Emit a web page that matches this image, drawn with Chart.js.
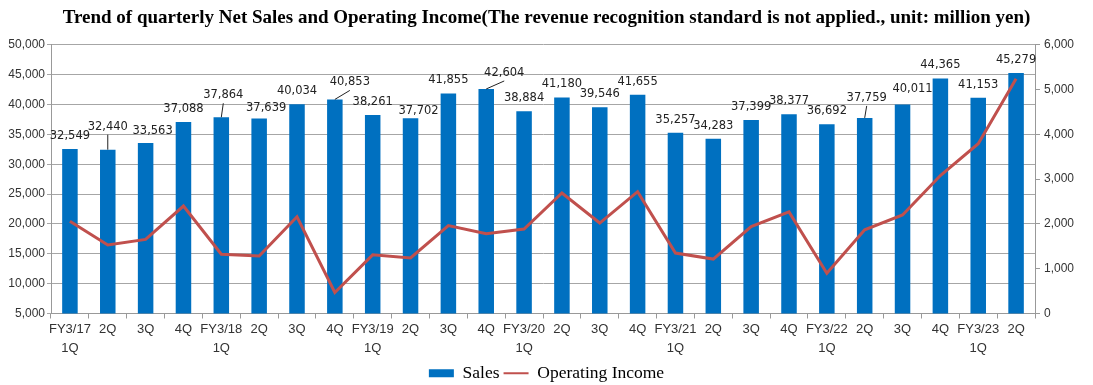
<!DOCTYPE html>
<html lang="en">
  <head>
    <meta charset="UTF-8" />
    <title>Net Sales and Operating Income</title>
    <script src="https://cdn.jsdelivr.net/npm/chart.js"></script>
    <style>
      html, body { margin: 0; padding: 0; background: #fff; }
      .wrap { width: 1093px; height: 385px; }
    </style>
  </head>
  <body>
    <div class="wrap"><canvas id="salesChart"></canvas></div>

    <script>
      // quarters (two-line labels)
      const quarters = [
        ["FY3/17", "1Q"], "2Q", "3Q", "4Q",
        ["FY3/18", "1Q"], "2Q", "3Q", "4Q",
        ["FY3/19", "1Q"], "2Q", "3Q", "4Q",
        ["FY3/20", "1Q"], "2Q", "3Q", "4Q",
        ["FY3/21", "1Q"], "2Q", "3Q", "4Q",
        ["FY3/22", "1Q"], "2Q", "3Q", "4Q",
        ["FY3/23", "1Q"], "2Q",
      ];

      // net sales, million yen (left axis)
      const sales = [
        32549, 32440, 33563, 37088,
        37864, 37639, 40034, 40853,
        38261, 37702, 41855, 42604,
        38884, 41180, 39546, 41655,
        35257, 34283, 37399, 38377,
        36692, 37759, 40011, 44365,
        41153, 45279,
      ];

      // operating income, million yen (right axis)
      const operatingIncome = [
        2060, 1530, 1655, 2400,
        1325, 1285, 2160, 470,
        1310, 1240, 1965, 1780,
        1885, 2690, 2020, 2720,
        1350, 1215, 1940, 2270,
        900, 1870, 2200, 3080,
        3790, 5240,
      ];

      const salesTicks = { min: 5000, max: 50000, step: 5000 };
      const incomeTicks = { min: 0, max: 6000, step: 1000 };

      // hand-moved value labels (px nudge, leader line), like in the original
      const labelNudge = {
        1: { dx: 0, dy: -10, leader: true },
        2: { dx: 7, dy: 1 },
        4: { dx: 2, dy: -9, leader: true },
        5: { dx: 7, dy: 2 },
        7: { dx: 15, dy: -4, leader: true },
        9: { dx: 8, dy: 6 },
        11: { dx: 18, dy: -3, leader: true },
        21: { dx: 2, dy: -7, leader: true },
        22: { dx: 10, dy: -2 },
      };

      const fmt = (v) => v.toLocaleString("en-US");

      // value labels above the bars
      const barLabels = {
        id: "barLabels",
        afterDatasetsDraw(chart) {
          const meta = chart.getDatasetMeta(1);
          const ctx = chart.ctx;
          ctx.save();
          ctx.font = "11.5px 'DejaVu Sans'";
          ctx.fillStyle = "#222";
          ctx.strokeStyle = "#222";
          ctx.lineWidth = 1;
          ctx.textAlign = "center";
          ctx.textBaseline = "middle";
          meta.data.forEach((bar, i) => {
            const n = labelNudge[i] || { dx: 0, dy: 0 };
            const lx = bar.x + n.dx;
            const ly = bar.y - 13 + n.dy;
            ctx.fillText(fmt(sales[i]), lx, ly);
            if (n.leader) {
              ctx.beginPath();
              ctx.moveTo(lx, ly + 8);
              ctx.lineTo(bar.x, bar.y);
              ctx.stroke();
            }
          });
          ctx.restore();
        },
      };

      const ctx = document.getElementById("salesChart").getContext("2d");
      new Chart(ctx, {
        data: {
          labels: quarters,
          datasets: [
            {
              type: "line",
              label: "Operating Income",
              data: operatingIncome,
              yAxisID: "y1",
              borderColor: "#c0504d",
              backgroundColor: "#c0504d",
              borderWidth: 3,
              pointRadius: 0,
              tension: 0,
              order: 0,
            },
            {
              type: "bar",
              label: "Sales",
              data: sales,
              yAxisID: "y",
              backgroundColor: "#0070c0",
              barPercentage: 0.41,
              categoryPercentage: 1,
              order: 1,
            },
          ],
        },
        options: {
          responsive: true,
          maintainAspectRatio: false,
          animation: false,
          layout: { padding: { left: 0, right: 0, top: 0, bottom: -7 } },
          plugins: {
            title: {
              display: true,
              text:
                "Trend of quarterly Net Sales and Operating Income(The revenue recognition standard is not applied., unit: million yen)",
              color: "#000",
              font: { family: "'Liberation Serif'", size: 19, weight: "bold" },
              padding: { top: 7, bottom: 15 },
            },
            legend: {
              position: "bottom",
              labels: {
                usePointStyle: true,
                pointStyleWidth: 25,
                boxHeight: 8,
                padding: 4,
                color: "#333",
                font: { family: "'Liberation Serif'", size: 17.5 },
                generateLabels() {
                  return [
                    {
                      text: "Sales",
                      fillStyle: "#0070c0",
                      strokeStyle: "#0070c0",
                      lineWidth: 0,
                      pointStyle: "rect",
                      datasetIndex: 1,
                    },
                    {
                      text: "Operating Income",
                      fillStyle: "#c0504d",
                      strokeStyle: "#c0504d",
                      lineWidth: 2,
                      pointStyle: "line",
                      datasetIndex: 0,
                    },
                  ];
                },
              },
            },
            tooltip: { enabled: false },
          },
          scales: {
            x: {
              offset: true,
              afterFit(scale) { scale.height = 47; },
              grid: {
                offset: true,
                drawOnChartArea: false,
                color: "#999",
                tickLength: 5,
              },
              border: { color: "#999" },
              ticks: {
                color: "#333",
                font: { family: "'Liberation Sans'", size: 13, lineHeight: 1.5 },
                maxRotation: 0,
                autoSkip: false,
                padding: 1,
              },
            },
            y: {
              position: "left",
              min: salesTicks.min,
              max: salesTicks.max,
              afterFit(scale) { scale.width = 51; },
              ticks: {
                stepSize: salesTicks.step,
                color: "#333",
                font: { family: "'Liberation Sans'", size: 12 },
                padding: 2,
                callback: (v) => fmt(v),
              },
              grid: { color: "#a6a6a6", tickLength: 4 },
              border: { color: "#999" },
            },
            y1: {
              position: "right",
              min: incomeTicks.min,
              max: incomeTicks.max,
              afterFit(scale) { scale.width = 58; },
              ticks: {
                stepSize: incomeTicks.step,
                color: "#333",
                font: { family: "'Liberation Sans'", size: 12 },
                padding: 4,
                callback: (v) => fmt(v),
              },
              grid: { drawOnChartArea: false, color: "#999", tickLength: 5 },
              border: { color: "#999" },
            },
          },
        },
        plugins: [barLabels],
      });
    </script>
  </body>
</html>
